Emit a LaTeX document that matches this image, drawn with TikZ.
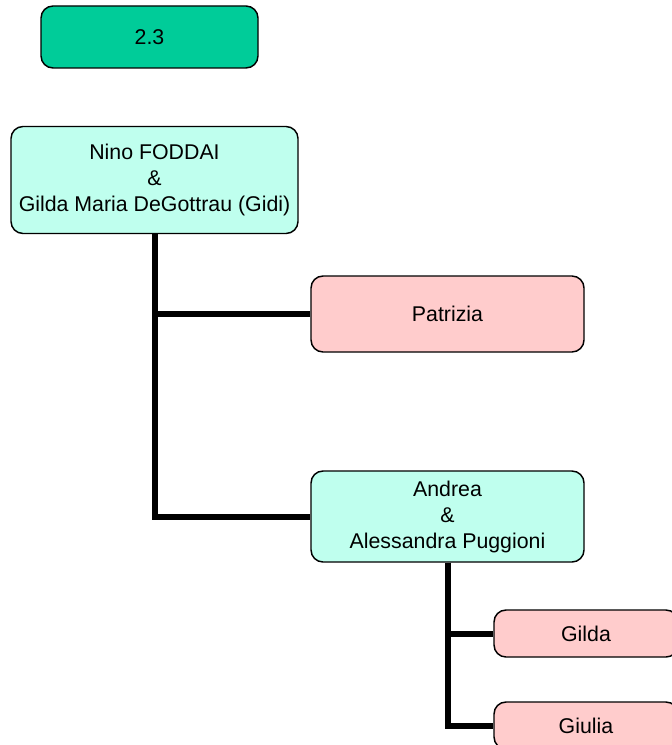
\documentclass[tikz,border=0pt]{standalone}
\usepackage{fontspec}
\setmainfont{Liberation Sans}
\usetikzlibrary{positioning}
\definecolor{mygreen}{RGB}{0,204,153}
\definecolor{mycyan}{RGB}{191,255,238}
\definecolor{mypink}{RGB}{255,204,204}

\begin{document}
\begin{tikzpicture}[x=0.75pt,y=-0.75pt,
famb/.style={
  draw=black,
  line width=1.1pt,
  fill=mycyan,
  rounded corners=9pt,
  align=center,
  inner sep=0pt,
  font={\fontsize{16}{19.5}\selectfont}},
kidb/.style={famb,fill=mypink},
tagb/.style={famb,fill=mygreen},
link/.style={line width=4.5pt},
]
\useasboundingbox (0,0) rectangle (671,745);
\node[tagb,minimum width=162.75pt,minimum height=46.5pt] (Tag) at (149.5,37) {2.3};
\node[famb,minimum width=215.25pt,minimum height=80.25pt] (Nin) at (154.5,180) {Nino FODDAI\\\&\\Gilda Maria DeGottrau (Gidi)};
\node[kidb,minimum width=204.75pt,minimum height=57pt] (Pat) at (447.5,314) {Patrizia};
\node[famb,minimum width=204.75pt,minimum height=68.25pt] (And) at (447.5,516.5) {Andrea\\\&\\Alessandra Puggioni};
\node[kidb,minimum width=138pt,minimum height=35.25pt] (Gil) at (586,633.5) {Gilda};
\node[kidb,minimum width=138pt,minimum height=35.25pt] (Giu) at (586,725.5) {Giulia};
% family lines
\draw[link] (Nin.south) |- (Pat.west);
\draw[link] (Nin.south) |- (And.west);
\draw[link] (And.south) |- (Gil.west);
\draw[link] (And.south) |- (Giu.west);
\end{tikzpicture}
\end{document}
